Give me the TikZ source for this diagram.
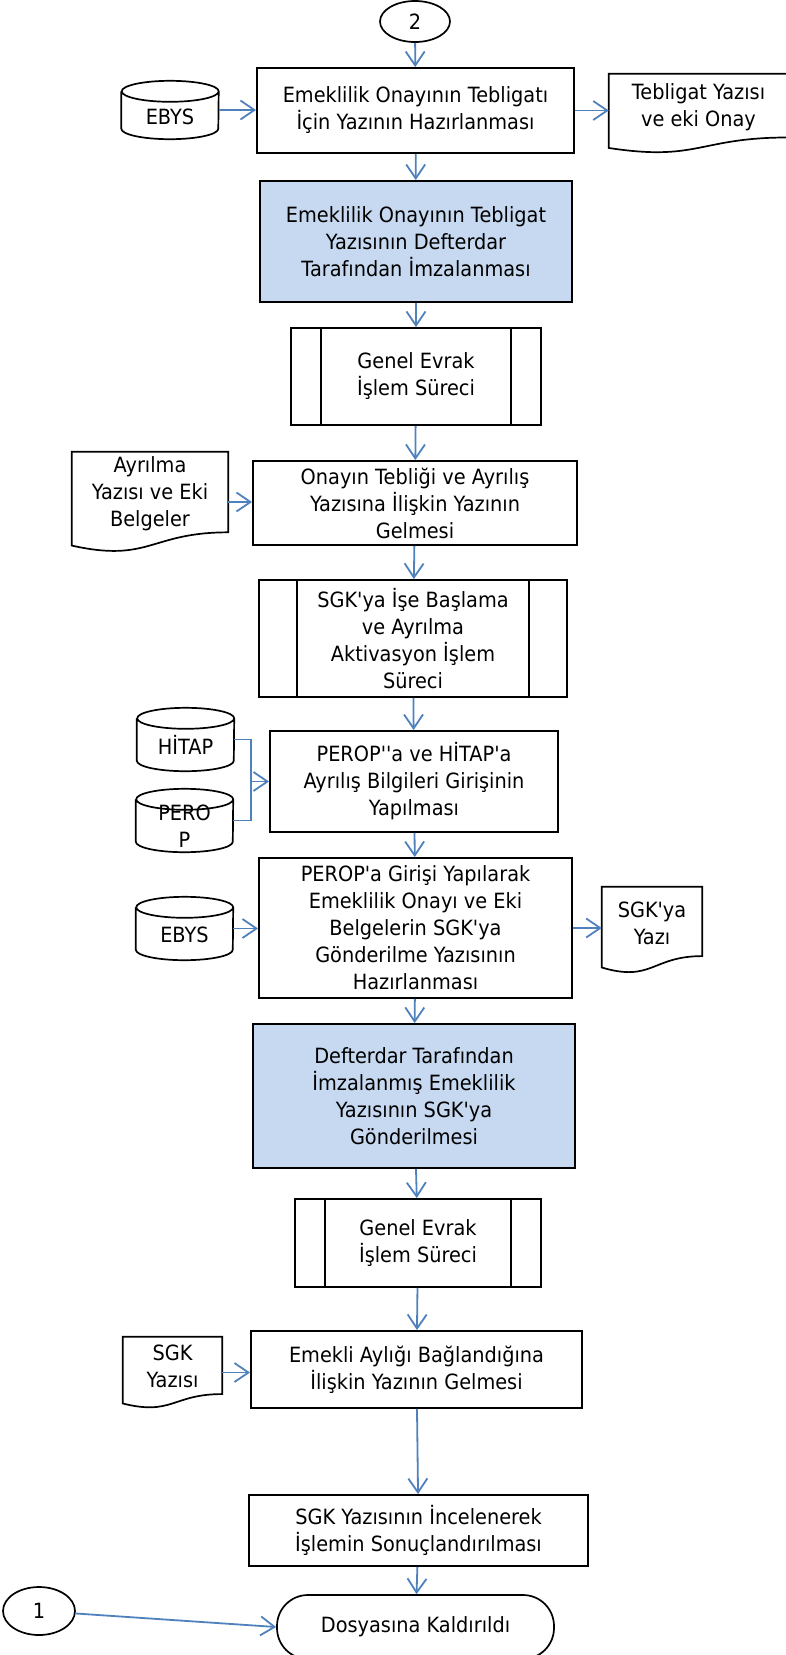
\documentclass[tikz,border=0pt]{standalone}
\usepackage{fontspec}
\setmainfont{DejaVu Sans}[FakeStretch=0.92, Ligatures=TeXOff]
\usetikzlibrary{shapes.geometric,arrows.meta,calc}

\definecolor{okmavi}{HTML}{4F81BD}
\definecolor{onaymavi}{HTML}{C6D9F0}

\tikzset{
	yazi/.style={font=\fontsize{21}{27}\selectfont, align=center},
	kutu/.style={draw, line width=1.9pt, rectangle, inner sep=0pt, yazi},
	onay/.style={kutu, fill=onaymavi},
	belge/.style={inner sep=0pt, yazi},
	vt/.style={inner sep=0pt, minimum width=97pt, yazi},
	baglanti/.style={draw, line width=1.7pt, ellipse, inner sep=0pt, yazi},
	bitis/.style={draw, line width=1.7pt, rectangle, rounded corners=31pt, inner sep=0pt, yazi},
	ok/.style={draw=okmavi, line width=1.8pt, -{Straight Barb[length=14pt, width=19pt]}},
	hat/.style={draw=okmavi, line width=1.8pt},
	cerceve/.style={line width=1.7pt},
}

% veritabani silindiri
\newcommand{\silindir}[1]{%
	\draw[cerceve] ([yshift=-10.5pt]#1.north west) -- ([yshift=10.5pt]#1.south west)
		arc[start angle=180, end angle=360, x radius=48.5pt, y radius=10.5pt]
		-- ([yshift=-10.5pt]#1.north east)
		arc[start angle=0, end angle=180, x radius=48.5pt, y radius=10.5pt]
		arc[start angle=180, end angle=360, x radius=48.5pt, y radius=10.5pt];}
% belge sekli
\newcommand{\belgecizgi}[1]{%
	\draw[cerceve] let \p1=($(#1.north east)-(#1.south west)$) in
		(#1.north west) -- (#1.north east) -- ++(0pt,-0.802*\y1)
		.. controls +(-0.5*\x1,0pt) and +(0.5*\x1,-0.1735*\y1) .. ([yshift=-0.934*\y1]#1.north west) -- cycle;}
% alt surec cizgileri
\newcommand{\altcizgi}[2]{%
	\draw[cerceve] ([xshift=#2]#1.north west) -- ([xshift=#2]#1.south west);
	\draw[cerceve] ([xshift=-#2]#1.north east) -- ([xshift=-#2]#1.south east);}

\begin{document}
\begin{tikzpicture}[x=1pt, y=1pt]

	\useasboundingbox (0,0) rectangle (786,-1655);

	% Baglanti 2
	\node[baglanti, minimum width=70pt, minimum height=41pt] (bag2) at (415,-21.5) {2};
	% Tebligat yazisinin hazirlanmasi
	\node[kutu, minimum width=317pt, minimum height=85pt] (hazirla) at (415.5,-110.5) {Emeklilik Onayının Tebligatı\\İçin Yazının Hazırlanması};
	\node[vt, minimum height=58pt, label={[yazi, yshift=-6.5pt]center:EBYS}] (ebys1) at (170,-110) {};
	\silindir{ebys1}
	\node[belge, minimum width=179pt, minimum height=79pt, label={[yazi, yshift=6pt]center:{Tebligat Yazısı\\ve eki Onay}}] (tebyazi) at (698.5,-113.5) {};
	\belgecizgi{tebyazi}
	% Defterdar imzasi
	\node[onay, minimum width=312pt, minimum height=121pt] (imza1) at (416,-241.5) {Emeklilik Onayının Tebligat\\Yazısının Defterdar\\Tarafından İmzalanması};
	% Genel evrak
	\node[kutu, minimum width=250pt, minimum height=97pt] (evrak1) at (416,-376.5) {Genel Evrak\\İşlem Süreci};
	\altcizgi{evrak1}{31pt}
	% Teblig ve ayrilis
	\node[kutu, minimum width=324pt, minimum height=84pt] (teblig) at (415,-503) {Onayın Tebliği ve Ayrılış\\Yazısına İlişkin Yazının\\Gelmesi};
	\node[belge, minimum width=156pt, minimum height=100pt, label={[yazi, yshift=8pt]center:{Ayrılma\\Yazısı ve Eki\\Belgeler}}] (ayrilma) at (150,-502) {};
	\belgecizgi{ayrilma}
	% SGK aktivasyon
	\node[kutu, minimum width=308pt, minimum height=117pt] (aktivasyon) at (413,-638.5) {SGK'ya İşe Başlama\\ve Ayrılma\\Aktivasyon İşlem\\Süreci};
	\altcizgi{aktivasyon}{39pt}
	% PEROP ve HITAP girisi
	\node[kutu, minimum width=288pt, minimum height=101pt] (giris) at (414,-781.5) {PEROP''a ve HİTAP'a\\Ayrılış Bilgileri Girişinin\\Yapılması};
	\node[vt, minimum height=63pt, label={[yazi, yshift=-5pt]center:HİTAP}] (hitap) at (185.5,-739.5) {};
	\silindir{hitap}
	\node[vt, minimum height=63pt, label={[yazi, yshift=-6pt]center:{PERO\\P}}] (perop) at (184.5,-820.5) {};
	\silindir{perop}
	\coordinate (birles) at ([xshift=-18pt]giris.west);
	% SGK'ya gonderme yazisi
	\node[kutu, minimum width=313pt, minimum height=140pt] (sgkyazi) at (415.5,-928) {PEROP'a Girişi Yapılarak\\Emeklilik Onayı ve Eki\\Belgelerin SGK'ya\\Gönderilme Yazısının\\Hazırlanması};
	\node[vt, minimum height=63pt, label={[yazi, yshift=-6.5pt]center:EBYS}] (ebys2) at (184.5,-928.5) {};
	\silindir{ebys2}
	\node[belge, minimum width=100pt, minimum height=86pt, label={[yazi, yshift=6.5pt]center:{SGK'ya\\Yazı}}] (sgkya) at (652,-930) {};
	\belgecizgi{sgkya}
	% Defterdar imzasi
	\node[onay, minimum width=322pt, minimum height=144pt] (imza2) at (414,-1096) {Defterdar Tarafından\\İmzalanmış Emeklilik\\Yazısının SGK'ya\\Gönderilmesi};
	% Genel evrak
	\node[kutu, minimum width=246pt, minimum height=88pt] (evrak2) at (418,-1243) {Genel Evrak\\İşlem Süreci};
	\altcizgi{evrak2}{31pt}
	% Emekli ayligi
	\node[kutu, minimum width=331pt, minimum height=77pt] (aylik) at (416.5,-1369.5) {Emekli Aylığı Bağlandığına\\İlişkin Yazının Gelmesi};
	\node[belge, minimum width=99pt, minimum height=71pt, label={[yazi, yshift=6pt]center:{SGK\\Yazısı}}] (sgkyazisi) at (172.5,-1372.5) {};
	\belgecizgi{sgkyazisi}
	% Sonuclandirma
	\node[kutu, minimum width=339pt, minimum height=71pt] (incele) at (418.5,-1530.5) {SGK Yazısının İncelenerek\\İşlemin Sonuçlandırılması};
	% Bitis
	\node[bitis, minimum width=277pt, minimum height=64pt] (kaldir) at (415.5,-1627) {Dosyasına Kaldırıldı};
	\node[baglanti, minimum width=72pt, minimum height=48pt] (bag1) at (39,-1611) {1};

	% Oklar
	\draw[ok] (bag2) -- (hazirla);
	\draw[ok] (ebys1.east) -- (ebys1.east -| hazirla.west);
	\draw[ok] (hazirla.east) -- (hazirla.east -| tebyazi.west);
	\draw[ok] (hazirla) -- (imza1);
	\draw[ok] (imza1) -- (evrak1);
	\draw[ok] (evrak1) -- (teblig);
	\draw[ok] (ayrilma.east) -- (ayrilma.east -| teblig.west);
	\draw[ok] (teblig) -- (aktivasyon);
	\draw[ok] (aktivasyon) -- (giris);
	\draw[hat] (hitap.east) -| (birles) |- (perop.east);
	\draw[ok] (birles) -- (giris.west);
	\draw[ok] (giris) -- (sgkyazi);
	\draw[ok] (ebys2.east) -- (ebys2.east -| sgkyazi.west);
	\draw[ok] (sgkyazi.east) -- (sgkyazi.east -| sgkya.west);
	\draw[ok] (sgkyazi) -- (imza2);
	\draw[ok] (imza2) -- (evrak2);
	\draw[ok] (evrak2) -- (aylik);
	\draw[ok] (sgkyazisi.east) -- (sgkyazisi.east -| aylik.west);
	\draw[ok] (aylik) -- (incele);
	\draw[ok] (incele) -- (kaldir);
	\draw[ok] (bag1) -- (kaldir.west);

\end{tikzpicture}
\end{document}
